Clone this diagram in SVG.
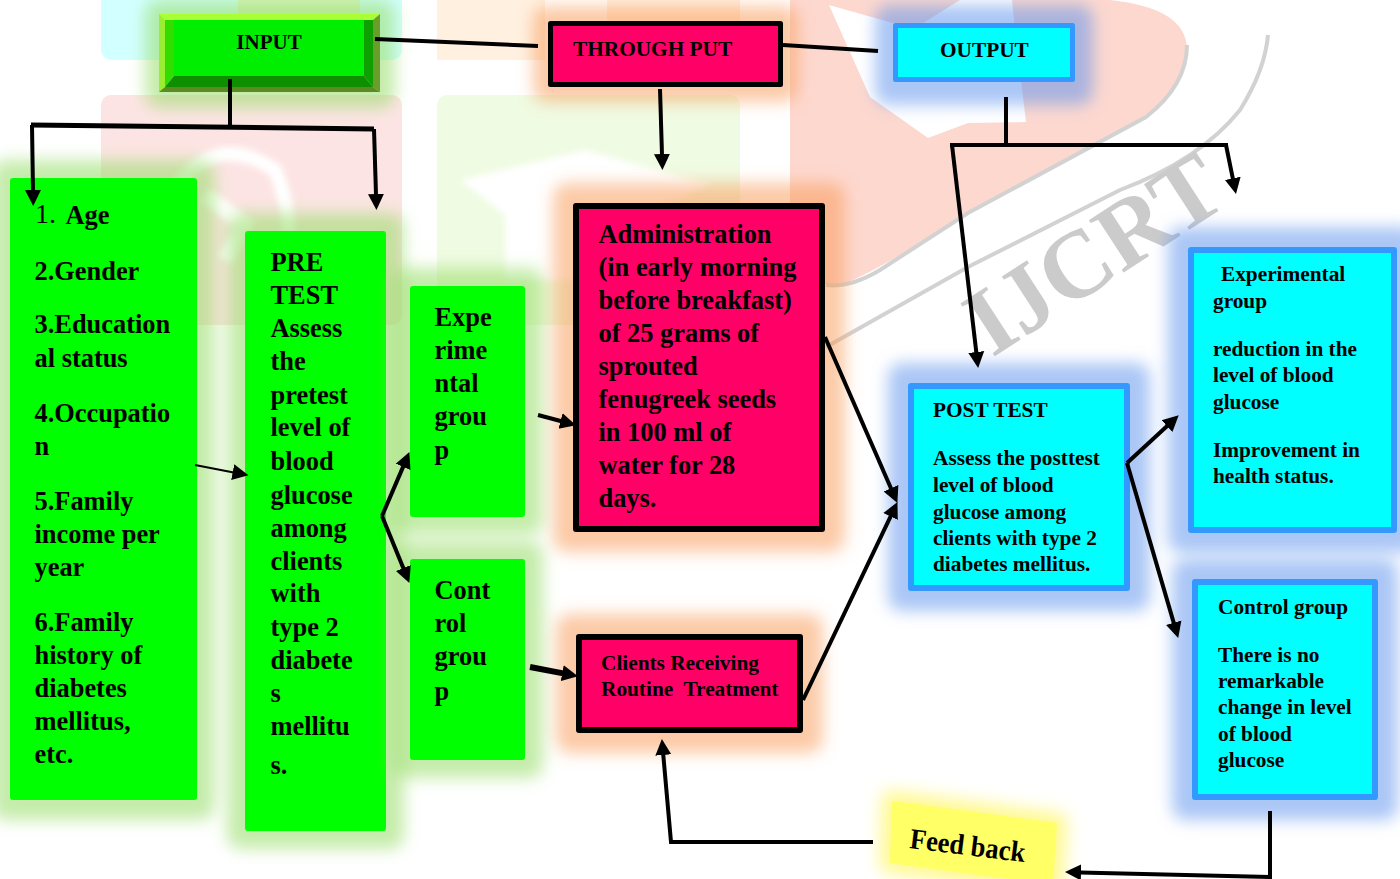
<svg xmlns="http://www.w3.org/2000/svg" width="1400" height="879" viewBox="0 0 1400 879">
<style>
text{font-family:"Liberation Serif","Times New Roman",serif;font-weight:700;fill:#000}
.big{font-size:26.4px;transform:translate(-.5px,0)}.mid{font-size:21.3px}
.g{fill:#00ff00}.gg{fill:#96dc64;fill-opacity:.55;filter:url(#b)}
.r{fill:#ff0066;stroke:#000;stroke-linejoin:round}.rg{fill:#fa964f;fill-opacity:.5;filter:url(#b)}
.c{fill:#00ffff;stroke:#3399ff;stroke-linejoin:round}.cg{fill:#5590ee;fill-opacity:.5;filter:url(#b)}
.l{fill:none;stroke:#000;stroke-width:4}
.a{marker-end:url(#h)}
</style>
<defs>
<filter id="b" x="-30%" y="-30%" width="160%" height="160%"><feGaussianBlur stdDeviation="8"/></filter>
<filter id="s" x="-10%" y="-10%" width="120%" height="120%"><feGaussianBlur stdDeviation="3"/></filter>
<marker id="h" markerUnits="userSpaceOnUse" markerWidth="20" markerHeight="18" refX="1" refY="8" orient="auto" viewBox="0 0 20 16"><path d="M0,0L16,8L0,16z" fill="#000"/></marker>
</defs>
<rect width="1400" height="879" fill="#fff"/>
<g id="watermark">
<rect x="101" y="-12" width="301" height="72" rx="10" fill="#d2ffff"/>
<rect x="238" y="-12" width="122" height="72" fill="#dcf5c8"/>
<rect x="437" y="-12" width="108" height="72" fill="#fff0e0"/>
<rect x="607" y="-12" width="133" height="72" fill="#fff0e0"/>
<rect x="101" y="95" width="301" height="230" rx="10" fill="#fde4e4"/>
<rect x="437" y="95" width="303" height="230" rx="10" fill="#effbe2"/>
<g fill="none" stroke="#fff" filter="url(#s)">
<path d="M175,190Q215,130 275,170Q295,220 285,250" stroke-width="14"/>
<path d="M205,195L245,225L225,260" stroke-width="16"/>
</g>
<path d="M460,180L585,150L710,185L600,235L700,280H505V215z" fill="#fff" filter="url(#s)"/>
<path d="M790,0H1110Q1187,8 1187,50Q1187,85 1146,117L968,213Q880,270 843,284H790z" fill="#fdd8cf"/>
<path d="M829,5L870,97L928,138L968,123L1026,122L1015,30L1012,0H960L920,25L893,23z" fill="#fff"/>
<g fill="none" stroke="#d2d2d2" stroke-width="4">
<path d="M826,285Q850,288 880,270L968,213L1146,117Q1187,85 1187,45"/>
<path d="M826,347L968,267L1120,190Q1200,160 1240,110Q1265,70 1268,35"/>
</g>
<text transform="translate(992,358) rotate(-33)" font-size="96" style="fill:#cbcbcb">IJCRT</text>
</g>
<g id="input">
<rect class="gg" x="145" y="0" width="250" height="108" rx="14"/>
<path d="M159,14H380L373,20H165z" fill="#a8ff33"/>
<path d="M159,14L165,20V87L159,92z" fill="#99ee33"/>
<path d="M165,20H174V76L165,87z" fill="#33dd00"/>
<path d="M380,14V92L373,87V20z" fill="#6a9e2a"/>
<path d="M373,20V87L364,76V20z" fill="#0ea000"/>
<path d="M159,92H380L373,87H165z" fill="#5e8a22"/>
<path d="M165,87H373L364,76H174z" fill="#0e8f00"/>
<rect x="174" y="20" width="190" height="56" fill="#00ee00"/>
<text x="269" y="49" font-size="21" text-anchor="middle">INPUT</text>
</g>
<g id="throughput">
<rect class="rg" x="533" y="6" width="265" height="96" rx="14"/>
<rect class="r" x="550.500" y="23.500" width="230" height="61" stroke-width="5"/>
<text x="573" y="56" class="mid">THROUGH PUT</text>
</g>
<g id="output">
<rect class="cg" x="875" y="5" width="218" height="100" rx="14"/>
<rect class="c" x="895.500" y="25.500" width="177" height="54" stroke-width="5"/>
<text x="940" y="57" class="mid">OUTPUT</text>
</g>
<g id="demographics">
<rect class="gg" x="-8" y="160" width="223" height="660" rx="14"/>
<rect class="g" x="10" y="178" width="187" height="622" rx="3"/>
<text x="35" y="223" font-size="28" style="font-weight:400">1.</text>
<text x="66" y="224" class="big">Age</text>
<text class="big"><tspan x="35" y="280">2.Gender</tspan><tspan x="35" y="333">3.Education</tspan><tspan x="35" y="367">al status</tspan><tspan x="35" y="422">4.Occupatio</tspan><tspan x="35" y="455">n</tspan><tspan x="35" y="510">5.Family</tspan><tspan x="35" y="543">income per</tspan><tspan x="35" y="576">year</tspan><tspan x="35" y="631">6.Family</tspan><tspan x="35" y="664">history of</tspan><tspan x="35" y="697">diabetes</tspan><tspan x="35" y="730">mellitus,</tspan><tspan x="35" y="763">etc.</tspan></text>
</g>
<g id="pretest">
<rect class="gg" x="227" y="213" width="177" height="636" rx="14"/>
<rect class="g" x="245" y="231" width="141" height="600" rx="3"/>
<text class="big"><tspan x="271" y="271">PRE</tspan><tspan x="271" y="304">TEST</tspan><tspan x="271" y="337">Assess</tspan><tspan x="271" y="370">the</tspan><tspan x="271" y="404">pretest</tspan><tspan x="271" y="436">level of</tspan><tspan x="271" y="470">blood</tspan><tspan x="271" y="504">glucose</tspan><tspan x="271" y="537">among</tspan><tspan x="271" y="570">clients</tspan><tspan x="271" y="602">with</tspan><tspan x="271" y="636">type 2</tspan><tspan x="271" y="669">diabete</tspan><tspan x="271" y="702">s</tspan><tspan x="271" y="735">mellitu</tspan><tspan x="271" y="774">s.</tspan></text>
</g>
<g id="experimental">
<rect class="gg" x="392" y="268" width="151" height="267" rx="14"/>
<rect class="g" x="410" y="286" width="115" height="231" rx="3"/>
<text class="big"><tspan x="435" y="326">Expe</tspan><tspan x="435" y="359">rime</tspan><tspan x="435" y="392">ntal</tspan><tspan x="435" y="425">grou</tspan><tspan x="435" y="459">p</tspan></text>
</g>
<g id="control">
<rect class="gg" x="392" y="541" width="151" height="237" rx="14"/>
<rect class="g" x="410" y="559" width="115" height="201" rx="3"/>
<text class="big"><tspan x="435" y="599">Cont</tspan><tspan x="435" y="632">rol</tspan><tspan x="435" y="665">grou</tspan><tspan x="435" y="700">p</tspan></text>
</g>
<g id="administration">
<rect class="rg" x="553" y="183" width="292" height="369" rx="14"/>
<rect class="r" x="576" y="206" width="246" height="323" stroke-width="6"/>
<text class="big"><tspan x="599" y="243">Administration</tspan><tspan x="599" y="276">(in early morning</tspan><tspan x="599" y="309">before breakfast)</tspan><tspan x="599" y="342">of 25 grams of</tspan><tspan x="599" y="375">sprouted</tspan><tspan x="599" y="408">fenugreek seeds</tspan><tspan x="599" y="441">in 100 ml of</tspan><tspan x="599" y="474">water for 28</tspan><tspan x="599" y="507">days.</tspan></text>
</g>
<g id="routine">
<rect class="rg" x="556" y="614" width="267" height="139" rx="14"/>
<rect class="r" x="579" y="637" width="221" height="93" stroke-width="6"/>
<text class="mid"><tspan x="601" y="670">Clients Receiving</tspan><tspan x="601" y="696">Routine&#160; Treatment</tspan></text>
</g>
<g id="posttest">
<rect class="cg" x="888" y="363" width="262" height="248" rx="14"/>
<rect class="c" x="911" y="386" width="216" height="202" stroke-width="6"/>
<text class="mid"><tspan x="933" y="417">POST TEST</tspan><tspan x="933" y="465">Assess the posttest</tspan><tspan x="933" y="492">level of blood</tspan><tspan x="933" y="519">glucose among</tspan><tspan x="933" y="545">clients with type 2</tspan><tspan x="933" y="571">diabetes mellitus.</tspan></text>
</g>
<g id="exp-result">
<rect class="cg" x="1168" y="227" width="249" height="326" rx="14"/>
<rect class="c" x="1191" y="250" width="203" height="280" stroke-width="6"/>
<text class="mid"><tspan x="1221" y="281">Experimental</tspan><tspan x="1213" y="308">group</tspan><tspan x="1213" y="356">reduction in the</tspan><tspan x="1213" y="382">level of blood</tspan><tspan x="1213" y="409">glucose</tspan><tspan x="1213" y="457">Improvement in</tspan><tspan x="1213" y="483">health status.</tspan></text>
</g>
<g id="control-result">
<rect class="cg" x="1172" y="559" width="226" height="261" rx="14"/>
<rect class="c" x="1195" y="582" width="180" height="215" stroke-width="6"/>
<text class="mid"><tspan x="1218" y="614">Control group</tspan><tspan x="1218" y="662">There is no</tspan><tspan x="1218" y="688">remarkable</tspan><tspan x="1218" y="714">change in level</tspan><tspan x="1218" y="741">of blood</tspan><tspan x="1218" y="767">glucose</tspan></text>
</g>
<g id="feedback">
<path d="M892,801L1057,823L1053,885L890,863z" fill="#fff560" fill-opacity=".55" stroke="#fff560" stroke-opacity=".55" stroke-width="24" stroke-linejoin="round" filter="url(#b)"/>
<path d="M892,801L1057,823L1053,885L890,863z" fill="#ffff66"/>
<text transform="translate(909,848) rotate(7)" font-size="29" textLength="116" lengthAdjust="spacingAndGlyphs">Feed back</text>
</g>
<g id="connectors">
<path class="l" d="M375,39L538,46"/>
<path class="l" d="M783,45L878,51"/>
<path class="l" d="M230,79V126"/>
<path class="l" style="stroke-width:5" d="M31,125L374,129"/>
<path class="l a" d="M32,125L33,191"/>
<path class="l a" d="M374,129L376,195"/>
<path class="l a" d="M660,89L662,155"/>
<path class="l" d="M1006,97V143"/>
<path class="l" d="M950,145H1228"/>
<path class="l a" d="M952,145L976.400,353"/>
<path class="l a" d="M1226,145L1233,179.300"/>
<path class="l a" style="stroke-width:2" d="M195,465L233.700,472.400"/>
<path class="l a" d="M382,516L403.500,465.900"/>
<path class="l a" d="M382,516L403.700,569"/>
<path class="l a" d="M538,415L561.500,421.300"/>
<path class="l a" style="stroke-width:6" d="M530,667L563.200,673.400"/>
<path class="l a" d="M825,337L891.400,489.200"/>
<path class="l a" d="M803,700L891,515.600"/>
<path class="l a" d="M1127,463L1167.700,425.500"/>
<path class="l a" d="M1127,463L1174,623.600"/>
<path class="l a" d="M873,842H671L663.200,754"/>
<path class="l" d="M1270,811V879"/>
<path class="l a" d="M1270,877L1080,872.400"/>
</g>
</svg>
